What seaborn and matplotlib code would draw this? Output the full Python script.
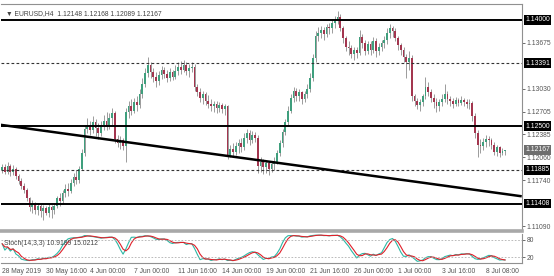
import numpy as np
import pandas as pd
import matplotlib
matplotlib.use("Agg")
import matplotlib.pyplot as plt
import seaborn as sns
from matplotlib.transforms import blended_transform_factory

# ---------------- data ----------------
first_open = 1.1188
close = [
    1.1192, 1.1186, 1.1194, 1.1185, 1.1190, 1.1180, 1.1172, 1.1166, 1.1160, 1.1148,
    1.1136, 1.1140, 1.1132, 1.1138, 1.1130, 1.1134, 1.1128, 1.1136, 1.1131, 1.1138,
    1.1148, 1.1144, 1.1156, 1.1162, 1.1158, 1.1170, 1.1178, 1.1174, 1.1190, 1.1212,
    1.1246, 1.1252, 1.1244, 1.1256, 1.1248, 1.1240, 1.1252, 1.1258, 1.1250, 1.1262,
    1.1268, 1.1232, 1.1226, 1.1230, 1.1222, 1.1270, 1.1278, 1.1272, 1.1284, 1.1280,
    1.1296, 1.1310, 1.1325, 1.1336, 1.1326, 1.1320, 1.1314, 1.1322, 1.1330, 1.1324,
    1.1318, 1.1326, 1.1320, 1.1328, 1.1334, 1.1330, 1.1336, 1.1328, 1.1332, 1.1334,
    1.1306, 1.1298, 1.1290, 1.1296, 1.1286, 1.1282, 1.1278, 1.1282, 1.1276, 1.1280,
    1.1274, 1.1278, 1.1210, 1.1218, 1.1214, 1.1222, 1.1226, 1.1220, 1.1234, 1.1240,
    1.1230, 1.1238, 1.1234, 1.1194, 1.1200, 1.1192, 1.1198, 1.1190, 1.1196, 1.1200,
    1.1212, 1.1226, 1.1242, 1.1256, 1.1272, 1.1290, 1.1300, 1.1292, 1.1298, 1.1288,
    1.1296, 1.1302, 1.1318, 1.1346, 1.1378, 1.1382, 1.1386, 1.1380, 1.1390, 1.1388,
    1.1396, 1.1400, 1.1404, 1.1388, 1.1374, 1.1362, 1.1360, 1.1352, 1.1358, 1.1354,
    1.1376, 1.1368, 1.1356, 1.1366, 1.1358, 1.1370, 1.1356, 1.1362, 1.1368, 1.1372,
    1.1382, 1.1388, 1.1384, 1.1374, 1.1364, 1.1358, 1.1348, 1.1340, 1.1346, 1.1292,
    1.1286, 1.1280, 1.1284, 1.1292, 1.1306, 1.1298, 1.1290, 1.1284, 1.1278, 1.1284,
    1.1288, 1.1296, 1.1288, 1.1285, 1.1282, 1.1287, 1.1283, 1.1287, 1.1284, 1.1281,
    1.1283, 1.1264, 1.1240, 1.1224, 1.1222, 1.1228, 1.1232, 1.1230, 1.1224, 1.1214,
    1.1220, 1.1212, 1.12148, 1.12167,
]
high = [
    1.1196, 1.1197, 1.1199, 1.1196, 1.1195, 1.1192, 1.1183, 1.1177, 1.1170, 1.1163,
    1.1150, 1.1146, 1.1143, 1.1142, 1.1140, 1.1139, 1.1138, 1.1140, 1.1139, 1.1142,
    1.1152, 1.1155, 1.1160, 1.1168, 1.1170, 1.1175, 1.1184, 1.1188, 1.1194, 1.1218,
    1.1252, 1.1262, 1.1258, 1.1264, 1.1260, 1.1255, 1.1258, 1.1266, 1.1270, 1.1268,
    1.1276, 1.1272, 1.1238, 1.1236, 1.1234, 1.1276, 1.1285, 1.1288, 1.1290, 1.1292,
    1.1302, 1.1318, 1.1332, 1.1347, 1.1340, 1.1332, 1.1326, 1.1328, 1.1335, 1.1334,
    1.1330, 1.1332, 1.1330, 1.1336, 1.1340, 1.1342, 1.1344, 1.1340, 1.1338, 1.1340,
    1.1338, 1.1310, 1.1304, 1.1300, 1.1298, 1.1294, 1.1288, 1.1286, 1.1285, 1.1284,
    1.1283, 1.1282, 1.1280, 1.1224, 1.1226, 1.1228, 1.1232, 1.1234, 1.1240, 1.1246,
    1.1244, 1.1243, 1.1242, 1.1238, 1.1206, 1.1204, 1.1202, 1.1200, 1.1201, 1.1206,
    1.1216, 1.1230, 1.1246, 1.1260, 1.1278, 1.1296, 1.1306, 1.1304, 1.1302, 1.1300,
    1.1300, 1.1310, 1.1325, 1.1352, 1.1384, 1.1390, 1.1392, 1.1390, 1.1394, 1.1396,
    1.1400, 1.1405, 1.1412, 1.1408, 1.1392, 1.1378, 1.1370, 1.1364, 1.1362, 1.1362,
    1.1386, 1.1380, 1.1372, 1.1370, 1.1370, 1.1376, 1.1374, 1.1368, 1.1372, 1.1378,
    1.1388, 1.1394, 1.1392, 1.1388, 1.1378, 1.1368, 1.1362, 1.1352, 1.1356, 1.1350,
    1.1296, 1.1290, 1.1288, 1.1296, 1.1320, 1.1312, 1.1302, 1.1296, 1.1290, 1.1288,
    1.1296, 1.1310, 1.1300, 1.1292, 1.1290, 1.1291, 1.1290, 1.1292, 1.1290, 1.1288,
    1.1288, 1.1286, 1.1268, 1.1244, 1.1232, 1.1234, 1.1238, 1.1236, 1.1234, 1.1228,
    1.1224, 1.1222, 1.1219, 1.12168,
]
low = [
    1.1184, 1.1182, 1.1183, 1.1180, 1.1181, 1.1176, 1.1168, 1.1162, 1.1156, 1.1144,
    1.1130, 1.1128, 1.1126, 1.1124, 1.1122, 1.1117, 1.1124, 1.1122, 1.1121, 1.1126,
    1.1134, 1.1138, 1.1140, 1.1150, 1.1152, 1.1155, 1.1165, 1.1168, 1.1170, 1.1188,
    1.1208, 1.1240, 1.1238, 1.1240, 1.1236, 1.1232, 1.1236, 1.1244, 1.1245, 1.1246,
    1.1252, 1.1226, 1.1220, 1.1218, 1.1216, 1.1199, 1.1262, 1.1266, 1.1268, 1.1272,
    1.1276, 1.1290, 1.1305, 1.1320, 1.1318, 1.1312, 1.1306, 1.1308, 1.1316, 1.1318,
    1.1312, 1.1314, 1.1315, 1.1316, 1.1322, 1.1324, 1.1326, 1.1322, 1.1320, 1.1326,
    1.1300, 1.1292, 1.1284, 1.1282, 1.1280, 1.1276, 1.1272, 1.1270, 1.1268, 1.1270,
    1.1268, 1.1266, 1.1204, 1.1206, 1.1208, 1.1210, 1.1212, 1.1214, 1.1216, 1.1226,
    1.1224, 1.1226, 1.1228, 1.1184, 1.1186, 1.1182, 1.1184, 1.1181, 1.1186, 1.1188,
    1.1196, 1.1208, 1.1220, 1.1238, 1.1250, 1.1268, 1.1284, 1.1286, 1.1285, 1.1282,
    1.1284, 1.1290, 1.1298, 1.1314, 1.1340, 1.1370, 1.1374, 1.1372, 1.1376, 1.1380,
    1.1382, 1.1388, 1.1394, 1.1384, 1.1368, 1.1356, 1.1350, 1.1346, 1.1344, 1.1346,
    1.1350, 1.1360, 1.1350, 1.1352, 1.1350, 1.1354, 1.1348, 1.1350, 1.1356, 1.1360,
    1.1366, 1.1374, 1.1376, 1.1370, 1.1358, 1.1350, 1.1340, 1.1318, 1.1330, 1.1286,
    1.1278, 1.1274, 1.1272, 1.1278, 1.1288, 1.1292, 1.1284, 1.1276, 1.1270, 1.1272,
    1.1278, 1.1284, 1.1282, 1.1278, 1.1276, 1.1278, 1.1278, 1.1280, 1.1278, 1.1276,
    1.1274, 1.1258, 1.1234, 1.1207, 1.1212, 1.1216, 1.1220, 1.1222, 1.1218, 1.1210,
    1.1208, 1.1206, 1.1209, 1.12089,
]

time_labels = ["28 May 2019", "30 May 16:00", "4 Jun 00:00", "7 Jun 00:00",
               "11 Jun 16:00", "14 Jun 00:00", "19 Jun 00:00", "21 Jun 16:00",
               "26 Jun 00:00", "1 Jul 00:00", "3 Jul 16:00", "8 Jul 08:00"]
bars_per_label = 16

solid_levels = [1.14000, 1.12500, 1.11408]
dashed_levels = [1.13391, 1.11885]
price_ticks = [1.13675, 1.13030, 1.12705, 1.12385, 1.12060, 1.11740, 1.11090]
last_price = 1.12167
trend_x = [-0.7, 189.0]
trend_y = [1.1252, 1.1151]

title_text = "\u25bc EURUSD,H4  1.12148 1.12168 1.12089 1.12167"
stoch_text = "Stoch(14,3,3) 10.9189 15.0212"
stoch_levels = [80, 20]

# ---------------- derived frame ----------------
n = len(close)
df = pd.DataFrame({"bar": np.arange(n), "close": close, "high": high, "low": low})
df["open"] = [first_open] + close[:-1]
df.loc[n - 1, "open"] = 1.12148

hh = df["high"].rolling(14, min_periods=1).max()
ll = df["low"].rolling(14, min_periods=1).min()
num = (df["close"] - ll).rolling(3, min_periods=1).sum()
den = (hh - ll).rolling(3, min_periods=1).sum()
df["K"] = 100 * num / den
df["D"] = df["K"].rolling(3, min_periods=1).mean()

# ---------------- figure ----------------
sns.set_theme(style="white")
plt.rcParams["font.family"] = ["Liberation Sans", "DejaVu Sans"]
FS = 4.9
W, H = 554, 276
fig = plt.figure(figsize=(W / 100, H / 100), dpi=100)
fig.patch.set_facecolor("white")

ax = fig.add_axes([1 / W, 1 - 231 / H, 521 / W, 227 / H])
axs = fig.add_axes([1 / W, 1 - 263 / H, 521 / W, 29 / H], sharex=ax)

bull, bear, wick = "#3f9f7d", "#a3364f", "#8c8c8c"
up = df["close"] >= df["open"]
ax.vlines(df["bar"], df["low"], df["high"], color=wick, lw=0.6, zorder=2)
body_lo = np.minimum(df["open"], df["close"])
body_h = np.maximum((df["close"] - df["open"]).abs(), 0.00004)
ax.bar(df["bar"], body_h, bottom=body_lo, width=0.65,
       color=np.where(up, bull, bear), linewidth=0, zorder=3)

for lv in solid_levels:
    ax.axhline(lv, color="black", lw=1.4, zorder=4)
for lv in dashed_levels:
    ax.axhline(lv, color="#333333", lw=0.8, ls=(0, (2.5, 2)), zorder=4)
ax.plot(trend_x, trend_y, color="black", lw=1.8, zorder=4, solid_capstyle="butt")

ax.set_xlim(-0.4, 189.1)
ax.set_ylim(1.1102, 1.14225)

ax.yaxis.tick_right()
ax.set_yticks(price_ticks)
ax.set_yticklabels([f"{v:.5f}" for v in price_ticks])
ax.tick_params(axis="y", direction="out", length=2, width=0.6, colors="#555555",
               labelsize=FS, pad=1.5, labelcolor="#555555")
ax.tick_params(axis="x", bottom=False, labelbottom=False)

trans = blended_transform_factory(ax.transAxes, ax.transData)
for lv in solid_levels + dashed_levels:
    ax.text(1.006, lv, f"{lv:.5f}", transform=trans, ha="left", va="center",
            fontsize=FS, color="white", zorder=10, clip_on=False,
            bbox=dict(facecolor="black", edgecolor="none", pad=1.0))
ax.text(1.006, last_price, f"{last_price:.5f}", transform=trans, ha="left", va="center",
        fontsize=FS, color="white", zorder=10, clip_on=False,
        bbox=dict(facecolor="#6e6e6e", edgecolor="none", pad=1.0))

ax.text(0.009, 0.975, title_text, transform=ax.transAxes, ha="left", va="top",
        fontsize=FS, color="#444444")

ax.spines["left"].set_visible(False)
ax.spines["top"].set_color("#909090")
ax.spines["top"].set_linewidth(0.8)
ax.spines["right"].set_color("#909090")
ax.spines["right"].set_linewidth(0.8)
ax.spines["bottom"].set_color("#a8a8a8")
ax.spines["bottom"].set_linewidth(2.6)

# ---------------- stochastic panel ----------------
sns.lineplot(data=df, x="bar", y="K", ax=axs, color="#2db8a5", lw=0.8, legend=False)
sns.lineplot(data=df, x="bar", y="D", ax=axs, color="#e0202a", lw=0.8, legend=False)
for lv in stoch_levels:
    axs.axhline(lv, color="#b0b0b0", lw=0.6, ls=(0, (2, 2)))
axs.set_ylim(0, 100)
axs.set_xlim(-0.4, 189.1)
axs.set_xlabel("")
axs.set_ylabel("")
axs.yaxis.tick_right()
axs.set_yticks(stoch_levels)
axs.set_yticklabels([str(v) for v in stoch_levels])
axs.tick_params(axis="y", direction="out", length=2, width=0.6, colors="#555555",
                labelsize=FS, pad=1.5)
ticks = np.arange(len(time_labels)) * bars_per_label
axs.set_xticks(ticks)
axs.set_xticklabels(time_labels, ha="left")
axs.tick_params(axis="x", direction="out", length=2, width=0.6, colors="#555555",
                labelsize=FS, pad=1.5)
axs.text(0.006, 0.80, stoch_text, transform=axs.transAxes, ha="left", va="top",
         fontsize=FS, color="#444444")
axs.spines["left"].set_visible(False)
axs.spines["top"].set_visible(False)
for side in ["right", "bottom"]:
    axs.spines[side].set_color("#909090")
    axs.spines[side].set_linewidth(0.8)

fig.savefig("out.png", dpi=100, facecolor="white")
